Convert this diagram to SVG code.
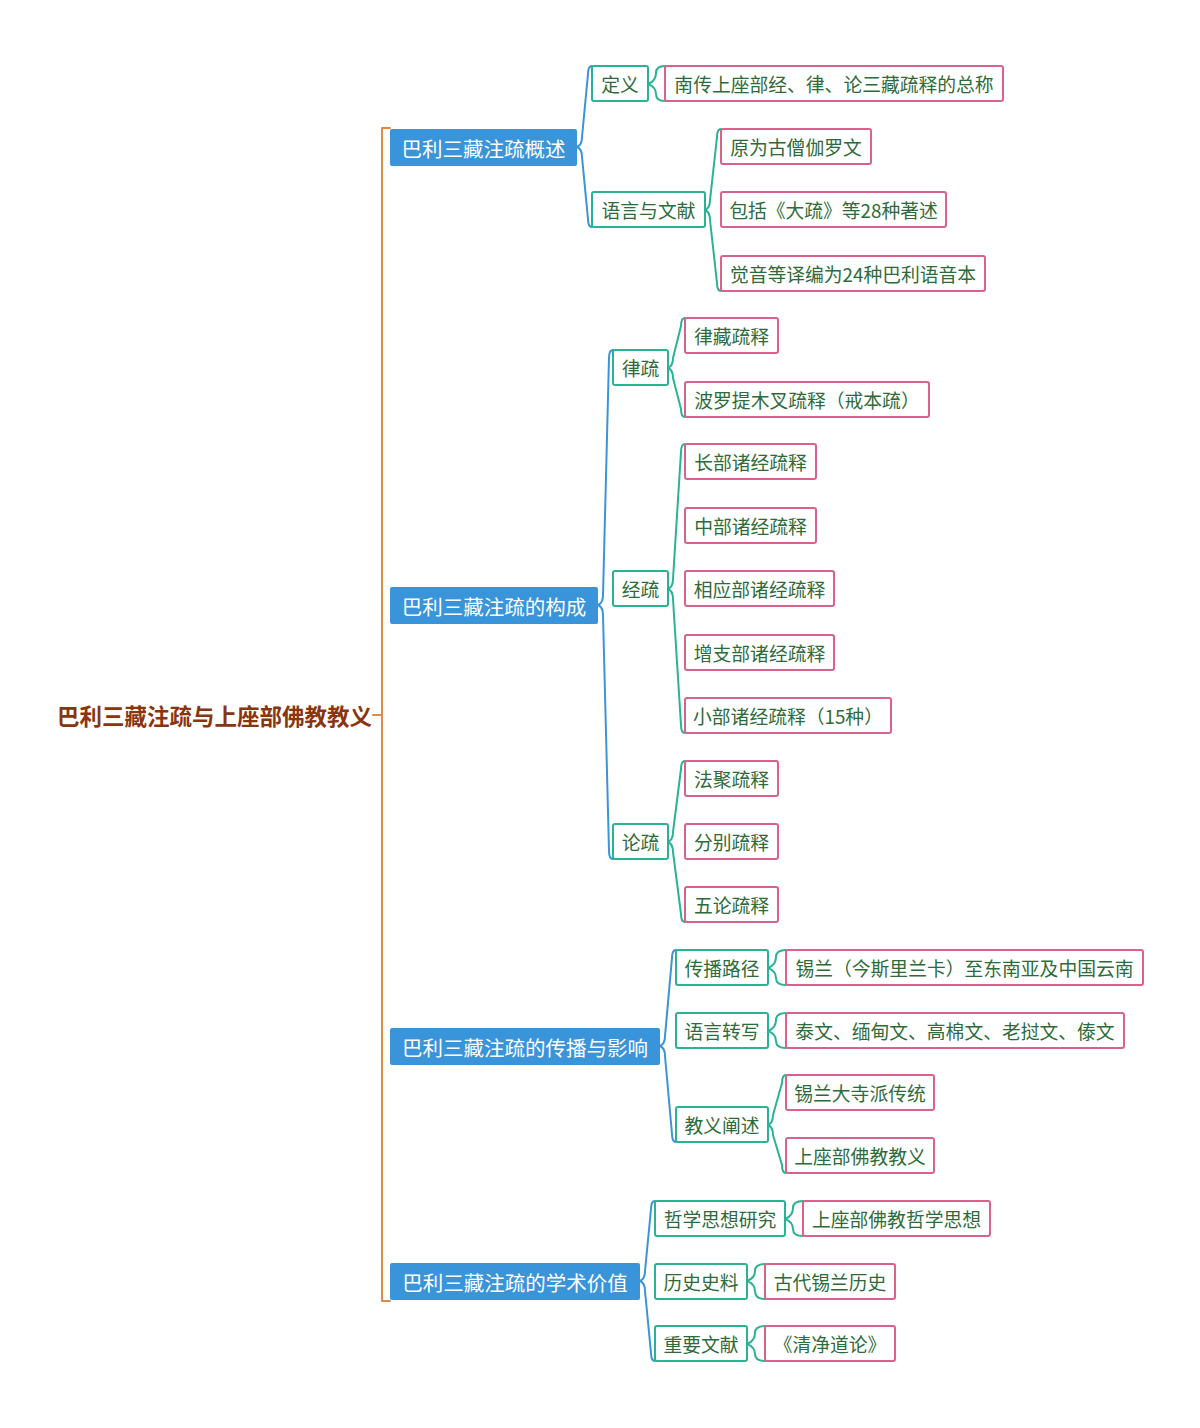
<svg xmlns="http://www.w3.org/2000/svg" width="1200" height="1428" viewBox="0 0 1200 1428">
<style>
text{font-family:"Noto Sans CJK SC","Noto Sans",sans-serif;text-anchor:middle;dominant-baseline:central}
.root{font-size:22.5px;font-weight:bold;fill:#8A3510}
.l1 rect{fill:#3A94DA;stroke:none}
.l1 text{font-size:20.5px;fill:#ffffff}
.l2 rect{fill:#ffffff;stroke:#2AB393;stroke-width:2}
.l3 rect{fill:#ffffff;stroke:#D8628A;stroke-width:2}
.l2 text,.l3 text{font-size:18.8px;fill:#2E6B3B}
.c{fill:none;stroke-width:2;stroke-linecap:round;stroke-linejoin:round}
.cb{stroke:#3A94DA}
.ct{stroke:#2AB393}
.co{stroke:#E08A4A}
</style>
<rect width="1200" height="1428" fill="#ffffff"/>
<g id="connectors">
<path class="c co" d="M373,715 H382 M390,128 H382 V1301 H390"/>
<path class="c cb" d="M592,66 Q588,66 588,74 L582,137 Q582,145 577,147 Q582,149 582,157 L588,219 Q588,227 592,227"/>
<path class="c ct" d="M665,66 Q656,66 656,73 Q656,81 648,84 Q656,87 656,94 Q656,101 665,101"/>
<path class="c ct" d="M721,129 Q717,129 717,137 L710,200 Q710,208 705,210 Q710,212 710,220 L717,283 Q717,291 721,291"/>
<path class="c cb" d="M613,350 Q609,350 609,358 L603,595 Q603,603 598,605 Q603,607 603,615 L609,851 Q609,859 613,859"/>
<path class="c ct" d="M685,318 Q681,318 681,326 L673,358 Q673,366 668,368 Q673,370 673,378 L681,409 Q681,417 685,417"/>
<path class="c ct" d="M685,444 Q681,444 681,452 L673,579 Q673,587 668,589 Q673,591 673,599 L681,725 Q681,733 685,733"/>
<path class="c ct" d="M685,761 Q681,761 681,769 L673,832 Q673,840 668,842 Q673,844 673,852 L681,914 Q681,922 685,922"/>
<path class="c cb" d="M676,950 Q672,950 672,958 L665,1036 Q665,1044 660,1046 Q665,1048 665,1056 L672,1134 Q672,1142 676,1142"/>
<path class="c ct" d="M786,950 Q776,950 776,957 Q776,965 768,968 Q776,971 776,978 Q776,985 786,985"/>
<path class="c ct" d="M786,1013 Q776,1013 776,1020 Q776,1028 768,1031 Q776,1034 776,1041 Q776,1048 786,1048"/>
<path class="c ct" d="M786,1075 Q782,1075 782,1083 L773,1115 Q773,1123 768,1125 Q773,1127 773,1135 L782,1165 Q782,1173 786,1173"/>
<path class="c cb" d="M655,1201 Q651,1201 651,1209 L645,1271 Q645,1279 640,1281 Q645,1283 645,1291 L651,1353 Q651,1361 655,1361"/>
<path class="c ct" d="M803,1201 Q793,1201 793,1208 Q793,1216 785,1219 Q793,1222 793,1229 Q793,1236 803,1236"/>
<path class="c ct" d="M765,1264 Q755,1264 755,1271 Q755,1278 747,1281 Q755,1284 755,1291 Q755,1299 765,1299"/>
<path class="c ct" d="M765,1326 Q755,1326 755,1333 Q755,1341 747,1344 Q755,1347 755,1354 Q755,1361 765,1361"/>
</g>
<g id="root"><text class="root" x="214.5" y="715">巴利三藏注疏与上座部佛教教义</text></g>
<g id="n1" class="l1"><rect x="390" y="129" width="187" height="37" rx="2"/><text x="483.5" y="147.5">巴利三藏注疏概述</text></g>
<g id="n2" class="l1"><rect x="390" y="587" width="208" height="37" rx="2"/><text x="494" y="605.5">巴利三藏注疏的构成</text></g>
<g id="n3" class="l1"><rect x="390" y="1028" width="270" height="37" rx="2"/><text x="525" y="1046.5">巴利三藏注疏的传播与影响</text></g>
<g id="n4" class="l1"><rect x="390" y="1263" width="250" height="37" rx="2"/><text x="515" y="1281.5">巴利三藏注疏的学术价值</text></g>
<g id="n1a" class="l2"><rect x="592" y="66" width="56" height="35" rx="2"/><text x="620" y="83.5">定义</text></g>
<g id="n1b" class="l2"><rect x="592" y="192" width="113" height="35" rx="2"/><text x="648.5" y="209.5">语言与文献</text></g>
<g id="n2a" class="l2"><rect x="613" y="350" width="55" height="35" rx="2"/><text x="640.5" y="367.5">律疏</text></g>
<g id="n2b" class="l2"><rect x="613" y="571" width="55" height="35" rx="2"/><text x="640.5" y="588.5">经疏</text></g>
<g id="n2c" class="l2"><rect x="613" y="824" width="55" height="35" rx="2"/><text x="640.5" y="841.5">论疏</text></g>
<g id="n3a" class="l2"><rect x="676" y="950" width="92" height="35" rx="2"/><text x="722" y="967.5">传播路径</text></g>
<g id="n3b" class="l2"><rect x="676" y="1013" width="92" height="35" rx="2"/><text x="722" y="1030.5">语言转写</text></g>
<g id="n3c" class="l2"><rect x="676" y="1107" width="92" height="35" rx="2"/><text x="722" y="1124.5">教义阐述</text></g>
<g id="n4a" class="l2"><rect x="655" y="1201" width="130" height="35" rx="2"/><text x="720" y="1218.5">哲学思想研究</text></g>
<g id="n4b" class="l2"><rect x="655" y="1264" width="92" height="35" rx="2"/><text x="701" y="1281.5">历史史料</text></g>
<g id="n4c" class="l2"><rect x="655" y="1326" width="92" height="35" rx="2"/><text x="701" y="1343.5">重要文献</text></g>
<g id="n1a1" class="l3"><rect x="665" y="66" width="338" height="35" rx="2"/><text x="834" y="83.5">南传上座部经、律、论三藏疏释的总称</text></g>
<g id="n1b1" class="l3"><rect x="721" y="129" width="150" height="35" rx="2"/><text x="796" y="146.5">原为古僧伽罗文</text></g>
<g id="n1b2" class="l3"><rect x="721" y="192" width="225" height="35" rx="2"/><text x="833.5" y="209.5">包括《大疏》等28种著述</text></g>
<g id="n1b3" class="l3"><rect x="721" y="256" width="264" height="35" rx="2"/><text x="853" y="273.5">觉音等译编为24种巴利语音本</text></g>
<g id="n2a1" class="l3"><rect x="685" y="318" width="93" height="35" rx="2"/><text x="731.5" y="335.5">律藏疏释</text></g>
<g id="n2a2" class="l3"><rect x="685" y="382" width="244" height="35" rx="2"/><text x="807" y="399.5">波罗提木叉疏释（戒本疏）</text></g>
<g id="n2b1" class="l3"><rect x="685" y="444" width="131" height="35" rx="2"/><text x="750.5" y="461.5">长部诸经疏释</text></g>
<g id="n2b2" class="l3"><rect x="685" y="508" width="131" height="35" rx="2"/><text x="750.5" y="525.5">中部诸经疏释</text></g>
<g id="n2b3" class="l3"><rect x="685" y="571" width="149" height="35" rx="2"/><text x="759.5" y="588.5">相应部诸经疏释</text></g>
<g id="n2b4" class="l3"><rect x="685" y="635" width="149" height="35" rx="2"/><text x="759.5" y="652.5">增支部诸经疏释</text></g>
<g id="n2b5" class="l3"><rect x="685" y="698" width="206" height="35" rx="2"/><text x="788" y="715.5">小部诸经疏释（15种）</text></g>
<g id="n2c1" class="l3"><rect x="685" y="761" width="93" height="35" rx="2"/><text x="731.5" y="778.5">法聚疏释</text></g>
<g id="n2c2" class="l3"><rect x="685" y="824" width="93" height="35" rx="2"/><text x="731.5" y="841.5">分别疏释</text></g>
<g id="n2c3" class="l3"><rect x="685" y="887" width="93" height="35" rx="2"/><text x="731.5" y="904.5">五论疏释</text></g>
<g id="n3a1" class="l3"><rect x="786" y="950" width="357" height="35" rx="2"/><text x="964.5" y="967.5">锡兰（今斯里兰卡）至东南亚及中国云南</text></g>
<g id="n3b1" class="l3"><rect x="786" y="1013" width="338" height="35" rx="2"/><text x="955" y="1030.5">泰文、缅甸文、高棉文、老挝文、傣文</text></g>
<g id="n3c1" class="l3"><rect x="786" y="1075" width="148" height="35" rx="2"/><text x="860" y="1092.5">锡兰大寺派传统</text></g>
<g id="n3c2" class="l3"><rect x="786" y="1138" width="148" height="35" rx="2"/><text x="860" y="1155.5">上座部佛教教义</text></g>
<g id="n4a1" class="l3"><rect x="803" y="1201" width="187" height="35" rx="2"/><text x="896.5" y="1218.5">上座部佛教哲学思想</text></g>
<g id="n4b1" class="l3"><rect x="765" y="1264" width="130" height="35" rx="2"/><text x="830" y="1281.5">古代锡兰历史</text></g>
<g id="n4c1" class="l3"><rect x="765" y="1326" width="130" height="35" rx="2"/><text x="830" y="1343.5">《清净道论》</text></g>
</svg>
